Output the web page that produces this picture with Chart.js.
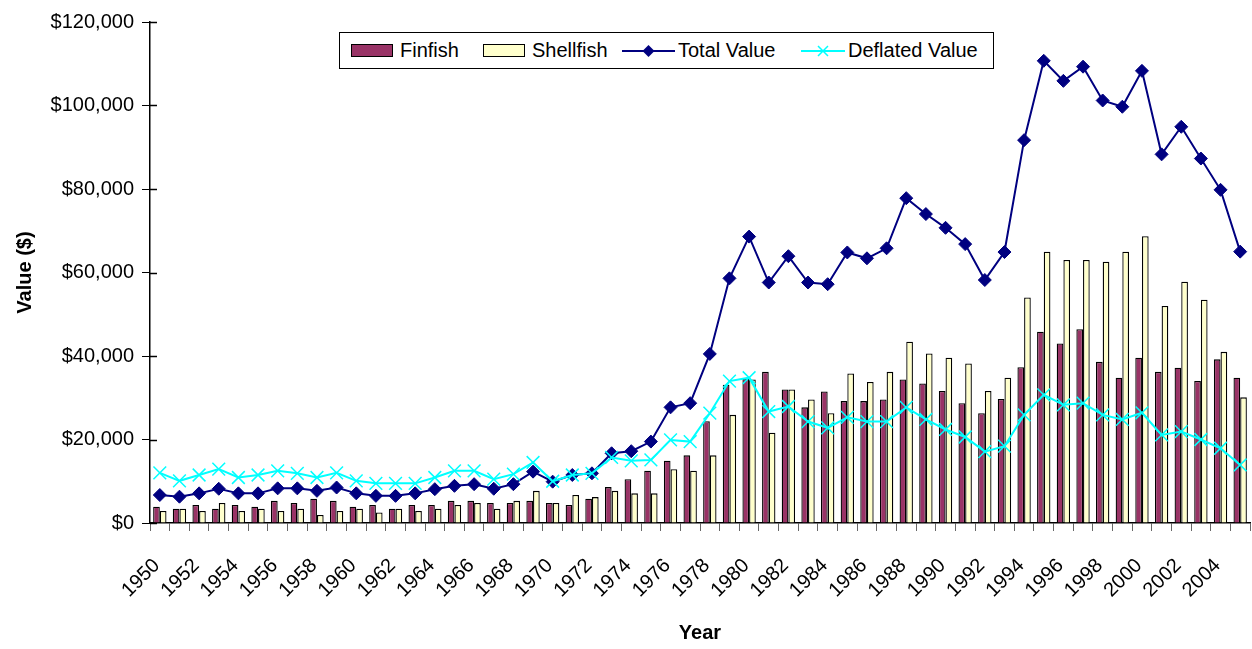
<!DOCTYPE html>
<html>
<head>
<meta charset="utf-8">
<script src="https://cdn.jsdelivr.net/npm/chart.js@4"></script>
<style>
  body { margin: 0; background: #fff; }
  #wrap { position: relative; width: 1252px; height: 649px; }
  #legend {
    position: absolute; left: 339px; top: 32px; width: 642px; height: 35px;
    border: 1px solid #000; background: #fff;
    display: flex; align-items: center; padding-left: 11px; box-sizing: content-box;
    font: 20px "Liberation Sans", Arial, sans-serif; color: #000;
  }
  .item { display: flex; align-items: center; flex: none; }
  .item:nth-child(1) { width: 132px; }
  .item:nth-child(2) { width: 139px; }
  .item:nth-child(3) { width: 179px; }
  .box { width: 40px; height: 11px; border: 1.5px solid #000; margin-right: 7px; }
  .item svg { margin-right: 3px; }
</style>
</head>
<body>
<div id="wrap">
  <canvas id="myChart" width="1252" height="649"></canvas>
  <div id="legend"></div>
</div>
<script>
const years = [];
for (let y = 1950; y <= 2005; y++) years.push(String(y));

const finfish = [
  3900, 3400, 4300, 3400, 4300, 3900, 5300, 4800, 5800, 5300,
  3900, 4300, 3400, 4300, 4300, 5300, 5300, 4800, 4800, 5300,
  4800, 4300, 5800, 8600, 10500, 12500, 14900, 16200, 24400, 33100,
  34600, 36200, 32000, 27700, 31500, 29200, 29200, 29600, 34400, 33400,
  31600, 28700, 26300, 29700, 37300, 45800, 43000, 46400, 38600, 34800,
  39600, 36200, 37200, 34000, 39200, 34800
];
const shellfish = [
  2900, 3400, 2900, 4800, 2900, 3400, 2900, 3400, 1900, 2900,
  3400, 2500, 3400, 2900, 3400, 4300, 4800, 3400, 5300, 7700,
  4800, 6700, 6200, 7700, 7100, 7100, 12900, 12500, 16200, 25900,
  34400, 21600, 32000, 29600, 26300, 35800, 33800, 36200, 43400, 40600,
  39600, 38200, 31600, 34800, 54000, 65000, 63000, 63000, 62600, 65000,
  68700, 52000, 57800, 53500, 41000, 30100
];
const totalValue = [
  6700, 6300, 7100, 8200, 7100, 7100, 8300, 8300, 7700, 8500,
  7100, 6500, 6500, 7100, 8100, 8900, 9300, 8200, 9300, 12300,
  9900, 11500, 11900, 16700, 17200, 19500, 27700, 28700, 40500, 58600,
  68600, 57600, 63900, 57600, 57200, 64800, 63400, 65800, 77800, 74000,
  70700, 66800, 58200, 64900, 91700, 110700, 105900, 109300, 101200, 99700,
  108300, 88300, 94900, 87300, 79800, 65000
];
const deflatedValue = [
  12000, 10100, 11500, 12900, 10900, 11500, 12500, 11900, 10900, 12000,
  10100, 9500, 9500, 9500, 10900, 12500, 12500, 10500, 11700, 14500,
  10000, 11500, 11900, 15700, 14900, 15100, 19900, 19500, 26300, 34000,
  34800, 26700, 27900, 24300, 22800, 25300, 24300, 24300, 27700, 24800,
  22400, 20600, 17100, 18400, 25900, 30700, 28300, 28700, 25900, 24800,
  26400, 21100, 21900, 20000, 17900, 13900
];
const yTicks = [0, 20000, 40000, 60000, 80000, 100000, 120000];

Chart.defaults.font.family = '"Liberation Sans", Arial, sans-serif';
Chart.defaults.color = '#000';

const datasets = [
  {
    type: 'line', label: 'Deflated Value', data: deflatedValue, order: 0,
    borderColor: '#00ffff', backgroundColor: '#00ffff', borderWidth: 2,
    pointStyle: 'crossRot', pointRadius: 9, pointBorderWidth: 1.5, tension: 0
  },
  {
    type: 'line', label: 'Total Value', data: totalValue, order: 1,
    borderColor: '#000080', backgroundColor: '#000080', borderWidth: 2,
    pointStyle: 'rectRot', pointRadius: 6.5, pointBorderWidth: 1, tension: 0
  },
  {
    type: 'bar', label: 'Finfish', data: finfish, order: 2,
    backgroundColor: '#993366', borderColor: '#000', borderWidth: 1.3,
    categoryPercentage: 0.68, barPercentage: 1.0
  },
  {
    type: 'bar', label: 'Shellfish', data: shellfish, order: 2,
    backgroundColor: '#ffffcc', borderColor: '#000', borderWidth: 1.3,
    categoryPercentage: 0.68, barPercentage: 1.0
  }
];
// bars first in the legend, same order as the original
const legendOrder = [2, 3, 1, 0];

// y ticks in the original cross the axis line, draw the inner half
const crossTicks = {
  id: 'crossTicks',
  afterDraw(chart) {
    const y = chart.scales.y;
    const c = chart.ctx;
    c.save();
    c.strokeStyle = '#000';
    c.lineWidth = 1.5;
    y.ticks.forEach(t => {
      const py = Math.round(y.getPixelForValue(t.value)) + 0.5;
      c.beginPath();
      c.moveTo(y.right, py);
      c.lineTo(y.right + 7, py);
      c.stroke();
    });
    c.restore();
  }
};

const ctx = document.getElementById("myChart").getContext("2d");
new Chart(ctx, {
  data: { labels: years, datasets: datasets },
  plugins: [crossTicks],
  options: {
    responsive: false,
    animation: false,
    layout: { autoPadding: false, padding: { top: 22, right: 2, left: 0, bottom: 0 } },
    plugins: { legend: { display: false }, tooltip: { enabled: false } },
    scales: {
      x: {
        offset: true,
        grid: { display: true, drawOnChartArea: false, tickLength: 8, color: '#666', offset: true },
        border: { color: '#000', width: 1.5 },
        ticks: {
          autoSkip: false, maxRotation: 45, minRotation: 45,
          font: { size: 20 }, padding: 23, labelOffset: -3,
          callback: (v, i) => (i % 2 === 0 ? years[i] : '')
        },
        title: { display: true, text: 'Year', font: { size: 20, weight: 'bold' }, padding: { top: 0, bottom: 4 } },
        afterFit: s => { s.height = 126; s.paddingLeft = 0; s.paddingRight = 0; }
      },
      y: {
        min: 0, max: 120000,
        afterBuildTicks: s => { s.ticks = yTicks.map(v => ({ value: v })); },
        grid: { drawOnChartArea: false, tickLength: 8, color: '#000' },
        border: { color: '#000', width: 1.5 },
        ticks: {
          font: { size: 20 }, padding: 8,
          callback: v => '$' + v.toLocaleString('en-US')
        },
        title: { display: true, text: 'Value ($)', font: { size: 20, weight: 'bold' }, padding: { top: 13 } },
        afterFit: s => { s.width = 150; }
      }
    }
  }
});

// legend box inside the plot, drawn as html
const legend = document.getElementById('legend');
legendOrder.forEach(i => {
  const ds = datasets[i];
  const item = document.createElement('div');
  item.className = 'item';
  if (ds.type === 'bar') {
    const b = document.createElement('div');
    b.className = 'box';
    b.style.background = ds.backgroundColor;
    item.appendChild(b);
  } else {
    const w = i === 1 ? 53 : 44;
    const c = w / 2;
    const mark = ds.pointStyle === 'rectRot'
      ? '<path d="M' + c + ' 1 L' + (c + 6) + ' 7 L' + c + ' 13 L' + (c - 6) + ' 7 Z" fill="' + ds.borderColor + '"/>'
      : '<path d="M' + (c - 5) + ' 2 L' + (c + 5) + ' 12 M' + (c + 5) + ' 2 L' + (c - 5) + ' 12" stroke="' + ds.borderColor + '" stroke-width="1.5"/>';
    item.innerHTML = '<svg width="' + w + '" height="14"><line x1="0" y1="7" x2="' + w + '" y2="7" stroke="' +
      ds.borderColor + '" stroke-width="2"/>' + mark + '</svg>';
  }
  const t = document.createElement('span');
  t.textContent = ds.label;
  item.appendChild(t);
  legend.appendChild(item);
});
</script>
</body>
</html>
